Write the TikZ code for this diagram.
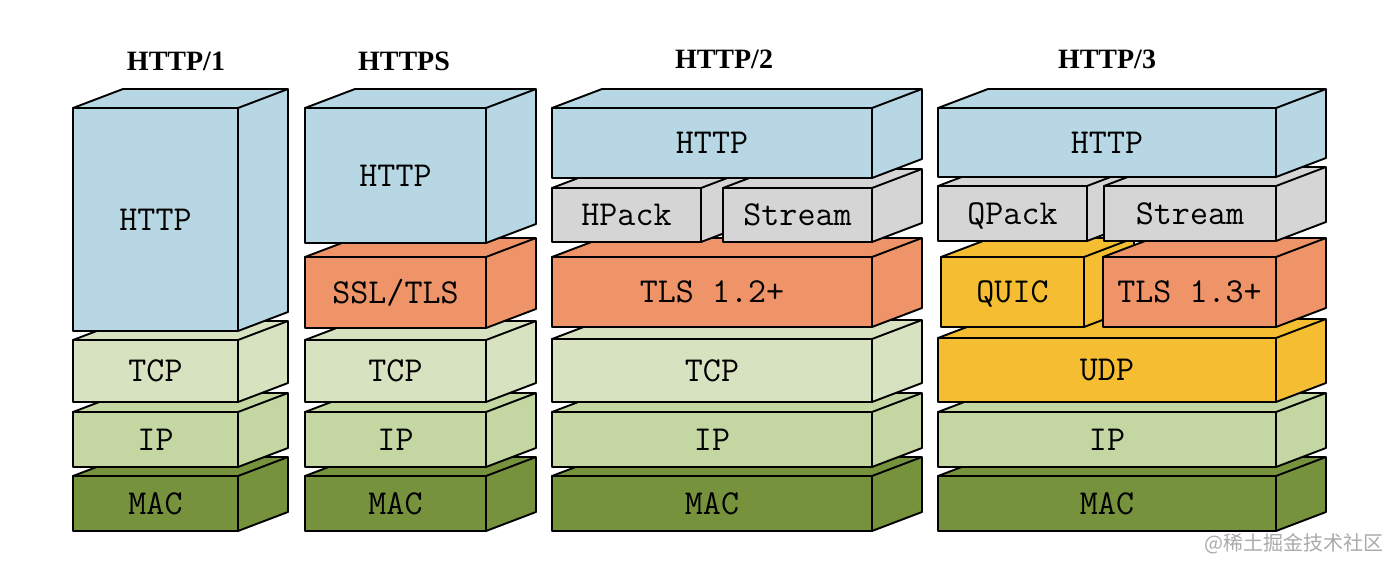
\documentclass[tikz,border=0pt]{standalone}
\usepackage{fontspec}
\setmainfont{Liberation Serif}
\newfontfamily\cjkfont{Noto Sans CJK SC}
\definecolor{cBlue}{HTML}{B7D7E4}
\definecolor{cGray}{HTML}{D5D5D5}
\definecolor{cOrange}{HTML}{EF9468}
\definecolor{cTcp}{HTML}{D7E3C0}
\definecolor{cIp}{HTML}{C4D6A2}
\definecolor{cMac}{HTML}{76923C}
\definecolor{cYellow}{HTML}{F5BD32}
\definecolor{cMark}{HTML}{AAAAAA}
\newcommand\layerbox[7]{%
  \pgfmathsetmacro\lbw{#4-#2}\pgfmathsetmacro\lbh{#5-#3}%
  \node[face, fill=#6, minimum width=\lbw pt, minimum height=\lbh pt] (#1) at (#2,#3) {#7};
  \filldraw[fill=#6] (#1.north west) -- ++(50,-19) -- ++(\lbw,0) -- ++(0,\lbh) -- (#1.south east) -- (#1.north east) -- cycle;
  \draw (#1.north east) -- ++(50,-19);
}
\begin{document}
\begin{tikzpicture}[x=1pt,y=-1pt, line width=1.9pt, line join=round,
  face/.style={draw=black, anchor=north west, inner sep=0pt, outer sep=0pt,
    font=\fontsize{35}{35}\selectfont\ttfamily, text height=21.5pt, text depth=0pt},
  title/.style={font=\fontsize{28}{28}\selectfont\bfseries, anchor=base},
  wmark/.style={font=\fontsize{20}{20}\selectfont\cjkfont, text=cMark, anchor=center}]
\fill[white] (0,0) rectangle (1390,572);
\useasboundingbox (0,0) rectangle (1390,572);
% titles
\node[title] (t1) at (176,71) {HTTP/1};
\node[title] (t2) at (404,71) {HTTPS};
\node[title] (t3) at (724,69) {HTTP/2};
\node[title] (t4) at (1107,69) {HTTP/3};
% HTTP/1
\layerbox{a5}{73}{476}{238}{531}{cMac}{MAC}
\layerbox{a4}{73}{412}{238}{467}{cIp}{IP}
\layerbox{a3}{73}{340}{238}{402}{cTcp}{TCP}
\layerbox{a1}{73}{108}{238}{331}{cBlue}{HTTP}
% HTTPS
\layerbox{b5}{305}{476}{486}{531}{cMac}{MAC}
\layerbox{b4}{305}{412}{486}{467}{cIp}{IP}
\layerbox{b3}{305}{340}{486}{402}{cTcp}{TCP}
\layerbox{b2}{305}{257}{486}{328}{cOrange}{SSL/TLS}
\layerbox{b1}{305}{108}{486}{243}{cBlue}{HTTP}
% HTTP/2
\layerbox{c6}{552}{476}{872}{531}{cMac}{MAC}
\layerbox{c5}{552}{412}{872}{467}{cIp}{IP}
\layerbox{c4}{552}{339}{872}{402}{cTcp}{TCP}
\layerbox{c3}{552}{257}{872}{327}{cOrange}{TLS 1.2+}
\layerbox{c2a}{552}{188}{701}{242}{cGray}{HPack}
\layerbox{c2b}{723}{188}{872}{242}{cGray}{Stream}
\layerbox{c1}{552}{108}{872}{178}{cBlue}{HTTP}
% HTTP/3
\layerbox{d6}{938}{476}{1276}{531}{cMac}{MAC}
\layerbox{d5}{938}{412}{1276}{467}{cIp}{IP}
\layerbox{d4}{938}{338}{1276}{402}{cYellow}{UDP}
\layerbox{d3a}{941}{257}{1084}{327}{cYellow}{QUIC}
\layerbox{d3b}{1103}{257}{1276}{327}{cOrange}{TLS 1.3+}
\layerbox{d2a}{938}{186}{1087}{241}{cGray}{QPack}
\layerbox{d2b}{1104}{186}{1276}{241}{cGray}{Stream}
\layerbox{d1}{938}{108}{1276}{177}{cBlue}{HTTP}
% watermark
\node[wmark] (wm) at (1294,544) {@稀土掘金技术社区};
\end{tikzpicture}
\end{document}
